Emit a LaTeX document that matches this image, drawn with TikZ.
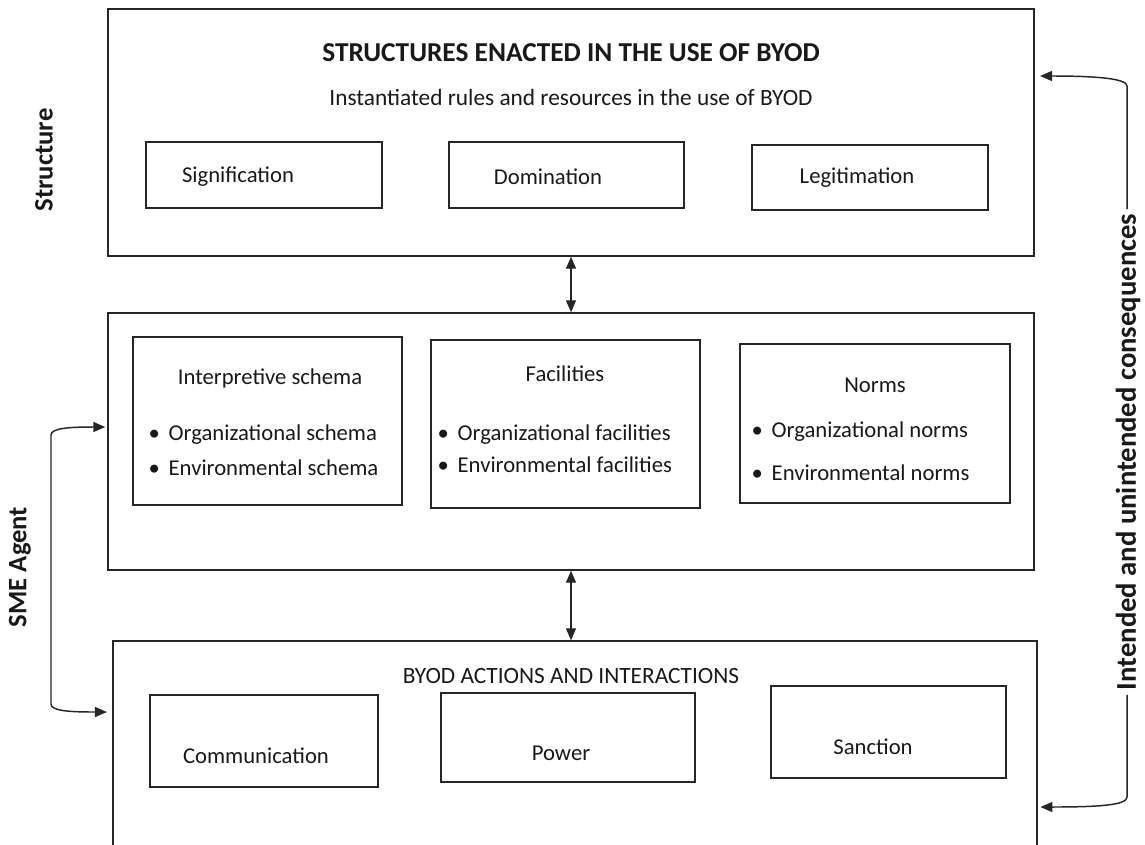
\documentclass[tikz,border=0pt]{standalone}
\usepackage{fontspec}
\setmainfont{Carlito}
\usetikzlibrary{arrows.meta}
\begin{document}
\begin{tikzpicture}[x=0.75pt,y=-0.75pt,
  line width=1.1pt, draw=black!85, text=black!90,
  box/.style={draw, rectangle, inner sep=0pt},
  lbl/.style={font=\fontsize{17}{20}\selectfont, inner sep=0pt},
  sublbl/.style={font=\fontsize{17.5}{21}\selectfont, inner sep=0pt},
  item/.style={font=\fontsize{17}{20}\selectfont, inner sep=0pt, anchor=west},
  side/.style={font=\fontsize{20}{24}\selectfont\bfseries, rotate=90, inner sep=2pt},
  tri/.tip={Triangle[length=9pt,width=7.5pt]},
  link/.style={line width=1.1pt}]
\clip (0,0) rectangle (1145,844);
\fill[white] (0,0) rectangle (1145,844);

% structures enacted
\node[box, minimum width=694.5pt, minimum height=185.25pt] (topbox) at (571,132.5) {};
\node[font=\fontsize{20.5}{24}\selectfont\bfseries, inner sep=0pt] (ttl) at (571,53) {STRUCTURES ENACTED IN THE USE OF BYOD};
\node[sublbl] (sub) at (571,97) {Instantiated rules and resources in the use of BYOD};
\node[box, minimum width=177pt, minimum height=49.5pt] (sig) at (264,175) {};
\node[lbl] at (238,177) {Signification};
\node[box, minimum width=176.25pt, minimum height=49.5pt] (dom) at (566.5,175) {};
\node[lbl] at (548,177) {Domination};
\node[box, minimum width=177pt, minimum height=48.75pt] (leg) at (870,177.5) {};
\node[lbl] at (857,178) {Legitimation};

% modalities
\node[box, minimum width=694.5pt, minimum height=192.75pt] (midbox) at (571,441.5) {};
\node[box, minimum width=201.75pt, minimum height=126pt] (interp) at (267.5,421) {};
\node[lbl] at (270,378) {Interpretive schema};
\node[item] at (148,435) {•\hspace{6.5pt}Organizational schema};
\node[item] at (148,468) {•\hspace{6.5pt}Environmental schema};
\node[box, minimum width=201.75pt, minimum height=126pt] (fac) at (565.5,424) {};
\node[lbl] at (565,374) {Facilities};
\node[item] at (437,435) {•\hspace{6.5pt}Organizational facilities};
\node[item] at (437,465) {•\hspace{6.5pt}Environmental facilities};
\node[box, minimum width=202.5pt, minimum height=119.25pt] (norm) at (875,423.5) {};
\node[lbl] at (875,385) {Norms};
\node[item] at (751,432) {•\hspace{6.5pt}Organizational norms};
\node[item] at (751,473) {•\hspace{6.5pt}Environmental norms};

% interaction
\node[box, minimum width=693pt, minimum height=194.25pt] (actbox) at (575,770.5) {};
\node[sublbl] at (571,676) {BYOD ACTIONS AND INTERACTIONS};
\node[box, minimum width=171pt, minimum height=69pt] (comm) at (264,741) {};
\node[lbl] at (256,756) {Communication};
\node[box, minimum width=190.5pt, minimum height=66.75pt] (pow) at (568,737.5) {};
\node[lbl] at (561,753) {Power};
\node[box, minimum width=176.25pt, minimum height=69pt] (sanc) at (888.5,732) {};
\node[lbl] at (873,747) {Sanction};

% side labels
\node[side] (strl) at (44,160) {Structure};
\node[side] (agl) at (20,567) {SME Agent};
\node[side, font=\fontsize{21.5}{26}\selectfont\bfseries, inner sep=3pt] (cons) at (1128,452) {Intended and unintended consequences};

% connectors
\draw[link, tri-tri] (topbox.south) -- (midbox.north);
\draw[link, tri-tri] (midbox.south) -- (midbox.south |- actbox.north);
\draw[link, tri-tri, shorten <=1.5pt, shorten >=4pt]
  (midbox.west |- 0,427) .. controls (70,427) and (51,428) .. (51,435)
  -- (51,704) .. controls (51,711) and (70,712) .. (actbox.west |- 0,712);
\draw[link, -tri, shorten >=4pt]
  (cons.east -| 1127,0) -- (1127,86) .. controls (1127,79) and (1100,76) .. (topbox.east |- 0,76);
\draw[link, -tri, shorten >=2pt]
  (cons.west -| 1127,0) -- (1127,797) .. controls (1127,805) and (1100,807) .. (actbox.east |- 0,807);
\end{tikzpicture}
\end{document}
